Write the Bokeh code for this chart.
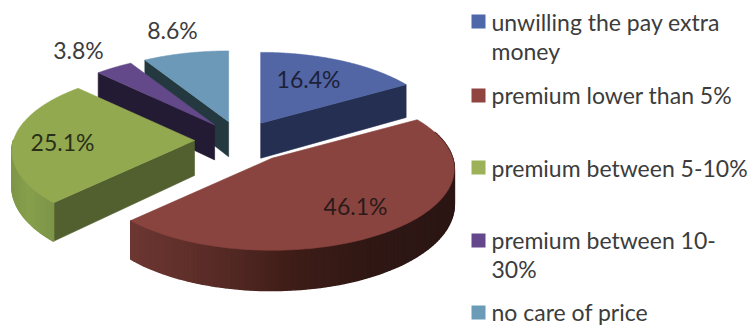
import numpy as np
from bokeh.core.properties import value
from bokeh.embed import file_html
from bokeh.models import ColumnDataSource, Range1d
from bokeh.plotting import figure
from bokeh.resources import INLINE

# Survey shares, in percent, clockwise from twelve o'clock
categories = [
    "unwilling the pay extra money",
    "premium lower than 5%",
    "premium between 5-10%",
    "premium between 10-30%",
    "no care of price",
]
shares = [16.4, 46.1, 25.1, 3.8, 8.6]

# Slice styling
top_colors = ["#5265a5", "#8a443f", "#93a950", "#63498a", "#6c99b7"]
cut_colors = ["#252f52", None, "#525f2f", "#231a33", "#243840"]
rim_stops = [
    None,
    ["#6d3732", "#5a2c27", "#3f1d18", "#2f1714", "#2b1614"],
    ["#7f9748", "#86a04c", "#80984a", "#7a9246", "#6f8640"],
    None,
    None,
]
legend_colors = ["#4f68a9", "#8f4440", "#9cb158", "#65488c", "#6a9cb8"]
text_color = "#3c3c3c"
font = "Lato"

# Projection of the tilted disc onto the page
CX, CY = 238.0, 139.0
RX, RY = 181.0, 80.0
PERSPECTIVE = 0.13
DEPTH = 35.0
explode = [45, 54, 44, 39, 37]
lift = [1, 0, 1, -1, -2]

# Which edge of each slice shows a cut face: 0 = leading, 1 = trailing
cut_edge = [1, None, 0, 0, 0]

# Paint order, back to front
paint_order = [4, 3, 0, 2, 1]

# Where each percentage sits
label_xy = [(308, 78), (355, 205), (62, 141), (78, 49), (172, 29)]

# Legend rows: swatch top edge, then text lines with their vertical centres
legend_rows = [
    (14, [("unwilling the pay extra", 21), ("money", 50)]),
    (88, [("premium lower than 5%", 94)]),
    (160, [("premium between 5-10%", 167)]),
    (233, [("premium between 10-", 239), ("30%", 268)]),
    (305, [("no care of price", 311)]),
]


def project(t):
    f = 1.0 / (1.0 + PERSPECTIVE * np.cos(t))
    return RX * np.sin(t) * f, -RY * np.cos(t) * f, f


def ramp(stops, k):
    pos = k * (len(stops) - 1)
    a = min(int(pos), len(stops) - 2)
    u = pos - a
    ca = [int(stops[a][i:i + 2], 16) for i in (1, 3, 5)]
    cb = [int(stops[a + 1][i:i + 2], 16) for i in (1, 3, 5)]
    return "#%02x%02x%02x" % tuple(int(round(m + (n - m) * u)) for m, n in zip(ca, cb))


edges = np.cumsum([0.0] + shares) / 100.0 * 2 * np.pi
xs, ys, fills, widths = [], [], [], []


def add(px, py, color, width=0.6):
    xs.append(list(px))
    ys.append(list(py))
    fills.append(color)
    widths.append(width)


for i in paint_order:
    t0, t1 = edges[i], edges[i + 1]
    mid = (t0 + t1) / 2
    ax = CX + explode[i] * np.sin(mid)
    ay = CY - explode[i] * np.cos(mid) * RY / RX + lift[i]
    ts = np.linspace(t0, t1, 120)
    dx, dy, f = project(ts)
    rx, ry = ax + dx, ay + dy

    # Cut face turned toward the viewer
    if cut_edge[i] is not None:
        cx_, cy_, cf = project(t1 if cut_edge[i] else t0)
        ex, ey = ax + cx_, ay + cy_
        add([ax, ex, ex, ax], [ay, ey, ey + DEPTH * cf, ay + DEPTH], cut_colors[i])

    # Outer rim, shaded from the left side of the disc to the right
    if rim_stops[i]:
        for j in range(len(ts) - 1):
            if np.cos(ts[j]) > 0.0 and (np.sin(ts[j]) < 0 or ts[j] < np.pi / 2 - 0.35):
                continue
            k = (rx[j] - rx.min()) / (rx.max() - rx.min())
            add(
                [rx[j], rx[j + 1], rx[j + 1], rx[j]],
                [ry[j], ry[j + 1], ry[j + 1] + DEPTH * f[j + 1], ry[j] + DEPTH * f[j]],
                ramp(rim_stops[i], k),
                1.6,
            )

    # Top face
    add([ax] + list(rx), [ay] + list(ry), top_colors[i])

p = figure(
    width=753,
    height=327,
    x_range=Range1d(0, 753),
    y_range=Range1d(327, 0),
    output_backend="svg",
    toolbar_location=None,
    min_border=0,
    outline_line_color=None,
    background_fill_color="white",
)
p.axis.visible = False
p.grid.visible = False

src = ColumnDataSource(dict(xs=xs, ys=ys, fill=fills, lw=widths))
p.patches("xs", "ys", source=src, fill_color="fill", line_color="fill", line_width="lw")

# Percentages on or beside the slices
p.text(
    x=[q[0] for q in label_xy],
    y=[q[1] for q in label_xy],
    text=[f"{s}%" for s in shares],
    text_font=value(font),
    text_font_size="23px",
    text_align="center",
    text_baseline="middle",
    text_color=["#1c2138", "#2a1a1a", "#2a3018", text_color, text_color],
)

# Legend drawn by hand so the wrapped lines keep their places
for color, (top, lines) in zip(legend_colors, legend_rows):
    p.quad(left=471, right=485, top=top, bottom=top + 14, fill_color=color, line_color=None)
    for line, mid_y in lines:
        p.text(
            x=[491],
            y=[mid_y],
            text=[line],
            text_font=value(font),
            text_font_size="23px",
            text_baseline="middle",
            text_color=text_color,
        )

open("out.html", "w").write(file_html(p, INLINE))
